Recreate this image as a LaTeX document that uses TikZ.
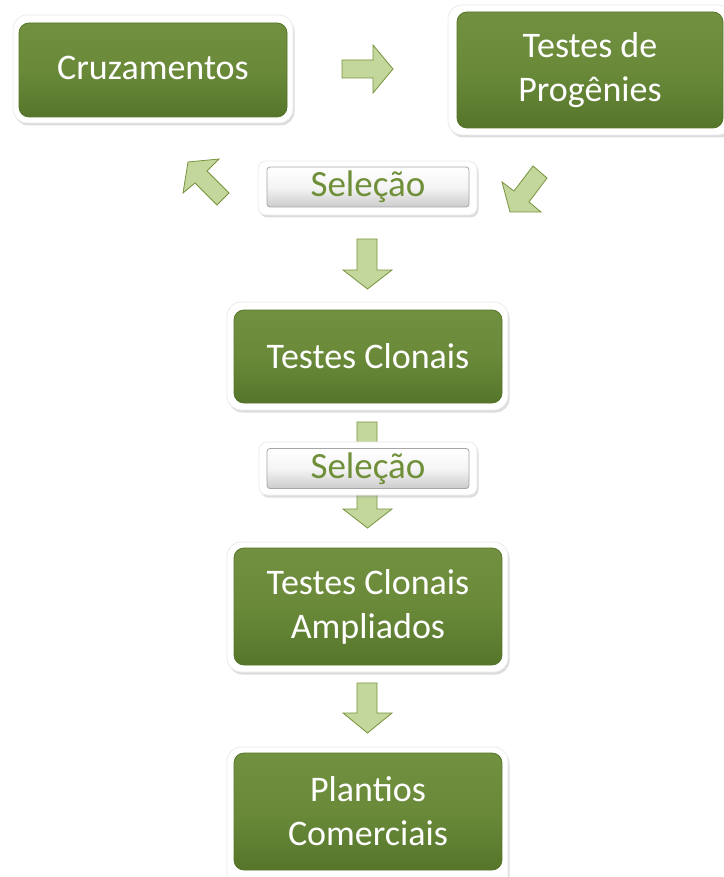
\documentclass[tikz,border=0pt]{standalone}
\usepackage{fontspec}
\setmainfont{Carlito}
\usetikzlibrary{shadows}
\definecolor{boxgreen}{HTML}{6A8A3A}
\definecolor{boxtop}{HTML}{719140}
\definecolor{boxbot}{HTML}{55752A}
\definecolor{arrfill}{HTML}{C3D69B}
\definecolor{arrline}{HTML}{77933C}
\definecolor{seltext}{HTML}{6F8F38}
\tikzset{
  frame/.style={fill=white, draw=black!8, line width=0.8pt, rounded corners=14pt,
     drop shadow={shadow xshift=1.5pt, shadow yshift=-2.5pt, opacity=0.3, fill=black!45}},
  greenbox/.style={rectangle, rounded corners=10pt, top color=boxtop, bottom color=boxbot,
     middle color=boxgreen, draw=boxbot, line width=0.8pt, text=white, align=center,
     font=\fontsize{36}{44}\selectfont, inner sep=0pt},
  selbox/.style={rectangle, rounded corners=3pt, top color=white, bottom color=black!20,
     middle color=black!4, draw=black!35, line width=0.8pt, text=seltext, align=center,
     font=\fontsize{37}{42}\selectfont, inner sep=0pt, minimum width=202pt, minimum height=40pt},
  blockarrow/.style={fill=arrfill, draw=arrline, line width=0.8pt, line join=miter}
}
\begin{document}
\begin{tikzpicture}[x=1pt,y=-1pt]
\useasboundingbox (0,0) rectangle (723,877);
% frames
\path[frame] (13,15) rectangle (293,123);
\path[frame] (448,5) rectangle (732,135);
\path[frame] (227,302) rectangle (508,410);
\path[frame] (227,542) rectangle (508,672);
\path[frame] (227,747) rectangle (508,890);
\path[frame, rounded corners=8pt] (258,161) rectangle (477,215);
% green boxes
\node[greenbox, minimum width=268pt, minimum height=94pt] (cruz) at (153,70) {\raisebox{5pt}{Cruzamentos}};
\node[greenbox, minimum width=266pt, minimum height=116pt] (prog) at (590,70) {Testes de\\Progênies};
\node[greenbox, minimum width=268pt, minimum height=93pt] (clon) at (368,356.5) {Testes Clonais};
\node[greenbox, minimum width=268pt, minimum height=117pt] (ampl) at (368,606.5) {Testes Clonais\\Ampliados};
\node[greenbox, minimum width=268pt, minimum height=117pt] (plant) at (368,811.5) {Plantios\\Comerciais};
% selection 1
\node[selbox] (sel1) at (368,187) {Seleção};
% arrows
\draw[blockarrow] (342,60) -- (373,60) -- (373,45) -- (393,69) -- (373,93) -- (373,78) -- (342,78) -- cycle;
\draw[blockarrow] (188,162) -- (219,159) -- (207,171) -- (229,193) -- (217,205) -- (195,183) -- (183,193) -- cycle;
\draw[blockarrow] (533,166) -- (547,178) -- (529,202) -- (541,212) -- (510,212) -- (502,182) -- (514,191) -- cycle;
\draw[blockarrow] (357,239) -- (377,239) -- (377,270) -- (392,270) -- (367.5,289) -- (343,270) -- (357,270) -- cycle;
\draw[blockarrow] (357,422) -- (377,422) -- (377,509) -- (392,509) -- (367.5,528) -- (343,509) -- (357,509) -- cycle;
\draw[blockarrow] (357,683) -- (377,683) -- (377,713) -- (392,713) -- (367.5,733) -- (343,713) -- (357,713) -- cycle;
% selection 2 (over the arrow shaft)
\path[frame, rounded corners=8pt] (259,442) rectangle (477,495);
\node[selbox] (sel2) at (368,468.5) {Seleção};
\end{tikzpicture}
\end{document}
